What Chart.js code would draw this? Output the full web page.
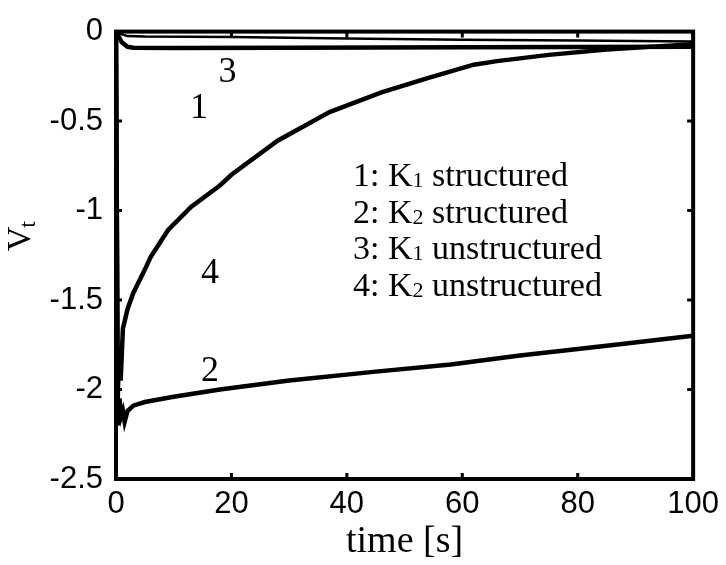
<!DOCTYPE html>
<html>
<head>
<meta charset="utf-8">
<script src="https://cdn.jsdelivr.net/npm/chart.js@4/dist/chart.umd.min.js"></script>
<style>
  html, body { margin: 0; padding: 0; background: #fff; }
  #wrap { width: 726px; height: 565px; }
</style>
</head>
<body>
<div id="wrap"><canvas id="chart"></canvas></div>
<script>
// axis ticks
const xTicks = [0, 20, 40, 60, 80, 100];
const yTicks = [0, -0.5, -1, -1.5, -2, -2.5];

// 1: K1 structured
const time1 = [0, 1, 2, 5, 20, 40, 60, 80, 100];
const vt1 = [0, -0.015, -0.025, -0.028, -0.03, -0.038, -0.045, -0.05, -0.055];

// 2: K2 structured
const time2 = [0, 0.3, 0.6, 0.9, 1.2, 1.5, 2, 3, 5, 10, 18, 30, 45, 58, 70, 85, 100];
const vt2 = [0, -2.2, -2.05, -2.15, -2.12, -2.18, -2.12, -2.09, -2.07, -2.04, -2.0, -1.95, -1.9, -1.86, -1.81, -1.755, -1.7];

// 3: K1 unstructured
const time3 = [0, 0.5, 1, 2, 3, 10, 30, 60, 100];
const vt3 = [0, -0.03, -0.06, -0.085, -0.09, -0.092, -0.09, -0.088, -0.085];

// 4: K2 unstructured
const time4 = [0, 0.3, 0.5, 0.8, 1.2, 2, 3, 5, 6, 9, 13, 18, 20, 28, 37, 46, 54, 62, 66, 75, 85, 100];
const vt4 = [0, -2.05, -1.8, -1.95, -1.66, -1.55, -1.46, -1.33, -1.26, -1.11, -0.98, -0.86, -0.8, -0.61, -0.45, -0.34, -0.26, -0.185, -0.165, -0.13, -0.1, -0.07];

// curve number labels
const curveLabels = ['1', '2', '3', '4'];
const labelX = [14.4, 16.3, 19.3, 16.3];
const labelY = [-0.43, -1.9, -0.23, -1.35];

// legend text: [prefix, subscript, rest]
const legendLines = [
    ['1: K', '1', ' structured'],
    ['2: K', '2', ' structured'],
    ['3: K', '1', ' unstructured'],
    ['4: K', '2', ' unstructured']
];

const toPoints = (xs, ys) => xs.map((x, i) => ({ x: x, y: ys[i] }));

const serif = '"Liberation Serif", "Times New Roman", serif';
const sans = '"Liberation Sans", Arial, sans-serif';

const line = (data, width) => ({
    data: data,
    borderColor: '#000',
    borderWidth: width,
    pointRadius: 0,
    tension: 0,
    fill: false
});

const annotate = {
    id: 'annotate',
    afterDraw(chart) {
        const ctx = chart.ctx;
        const area = chart.chartArea;
        const xs = chart.scales.x;
        const ys = chart.scales.y;
        ctx.save();

        // frame
        ctx.strokeStyle = '#000';
        ctx.lineWidth = 4;
        ctx.strokeRect(area.left, area.top, area.right - area.left, area.bottom - area.top);

        // inward ticks on all four sides
        ctx.lineWidth = 3;
        const len = 6;
        ctx.beginPath();
        xTicks.forEach(v => {
            const px = xs.getPixelForValue(v);
            ctx.moveTo(px, area.bottom); ctx.lineTo(px, area.bottom - len);
            ctx.moveTo(px, area.top); ctx.lineTo(px, area.top + len);
        });
        yTicks.forEach(v => {
            const py = ys.getPixelForValue(v);
            ctx.moveTo(area.left, py); ctx.lineTo(area.left + len, py);
            ctx.moveTo(area.right, py); ctx.lineTo(area.right - len, py);
        });
        ctx.stroke();

        // curve numbers
        ctx.fillStyle = '#000';
        ctx.font = '36px ' + serif;
        ctx.textAlign = 'center';
        ctx.textBaseline = 'middle';
        curveLabels.forEach((lab, i) => {
            ctx.fillText(lab, xs.getPixelForValue(labelX[i]), ys.getPixelForValue(labelY[i]));
        });

        // legend text
        ctx.textAlign = 'left';
        ctx.textBaseline = 'alphabetic';
        const big = '34px ' + serif;
        const small = '22px ' + serif;
        legendLines.forEach((parts, i) => {
            let x = 353;
            const y = 186 + i * 36.5;
            ctx.font = big;
            ctx.fillText(parts[0], x, y);
            x += ctx.measureText(parts[0]).width;
            ctx.font = small;
            ctx.fillText(parts[1], x, y + 1);
            x += ctx.measureText(parts[1]).width;
            ctx.font = big;
            ctx.fillText(parts[2], x, y);
        });

        // y axis title V_t, rotated
        ctx.translate(30, 234);
        ctx.rotate(-Math.PI / 2);
        ctx.font = '34px ' + serif;
        const vw = ctx.measureText('V').width;
        ctx.fillText('V', -vw / 2 - 5, 0);
        ctx.font = '24px ' + serif;
        ctx.fillText('t', vw / 2 - 6, 5);
        ctx.restore();
    }
};

new Chart(document.getElementById('chart'), {
    type: 'line',
    data: {
        datasets: [
            line(toPoints(time1, vt1), 2.5),
            line(toPoints(time2, vt2), 4.5),
            line(toPoints(time3, vt3), 4.5),
            line(toPoints(time4, vt4), 4.5)
        ]
    },
    options: {
        responsive: true,
        maintainAspectRatio: false,
        animation: false,
        layout: { padding: { left: 0, top: 25, right: 32, bottom: 0 } },
        plugins: {
            legend: { display: false },
            tooltip: { enabled: false }
        },
        scales: {
            x: {
                type: 'linear',
                min: 0,
                max: 100,
                afterFit: (scale) => { scale.height = 86; },
                afterBuildTicks: (scale) => { scale.ticks = xTicks.map(v => ({ value: v })); },
                grid: { display: false, drawTicks: false },
                border: { display: false },
                ticks: {
                    color: '#000',
                    padding: 7,
                    maxRotation: 0,
                    font: { family: sans, size: 31 },
                    callback: (v) => String(v)
                },
                title: {
                    display: true,
                    text: 'time [s]',
                    color: '#000',
                    padding: { top: 0, bottom: 0 },
                    font: { family: serif, size: 38 }
                }
            },
            y: {
                type: 'linear',
                min: -2.5,
                max: 0,
                afterFit: (scale) => { scale.width = 116; },
                afterBuildTicks: (scale) => { scale.ticks = yTicks.map(v => ({ value: v })); },
                grid: { display: false, drawTicks: false },
                border: { display: false },
                ticks: {
                    color: '#000',
                    padding: 13,
                    font: { family: sans, size: 31 },
                    callback: (v) => String(v)
                }
            }
        }
    },
    plugins: [annotate]
});
</script>
</body>
</html>
